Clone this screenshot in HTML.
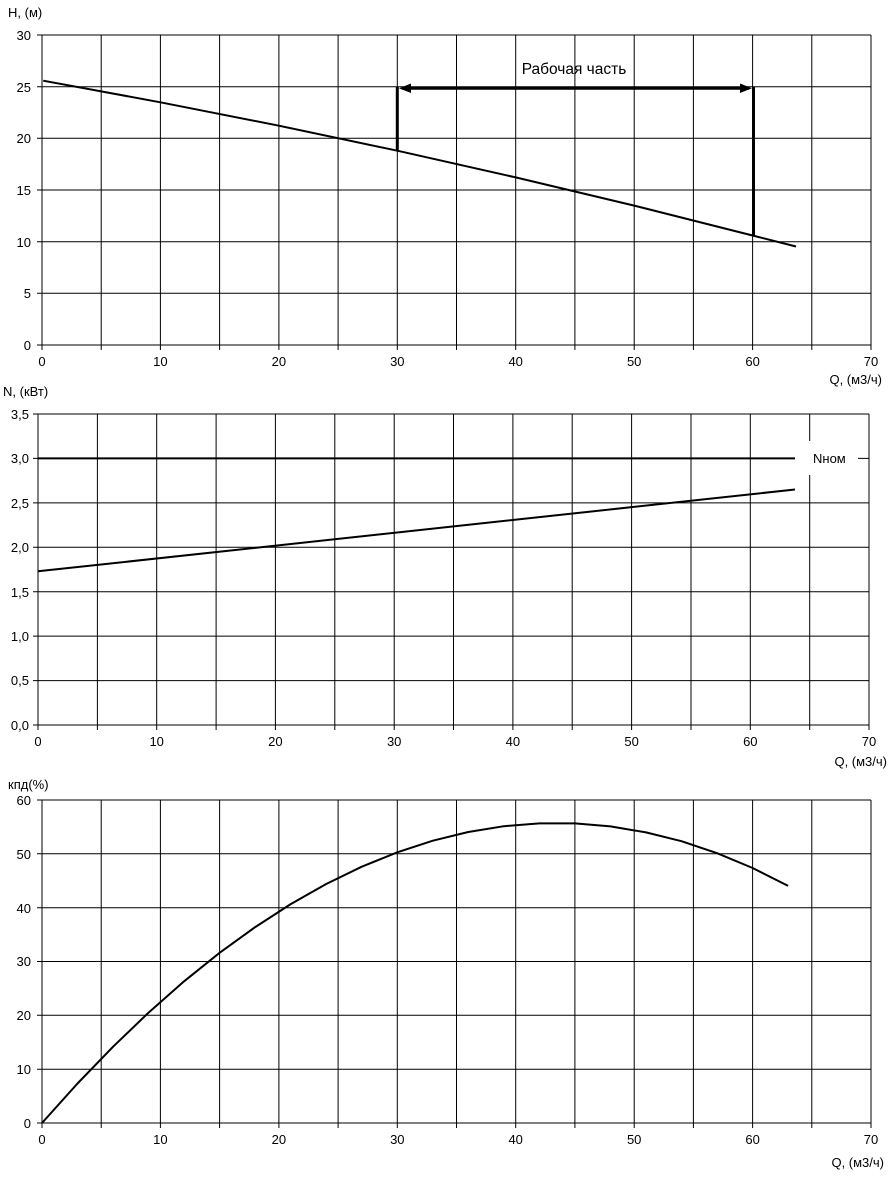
<!DOCTYPE html>
<html><head><meta charset="utf-8"><style>
body{margin:0;background:#fff}
svg{display:block}
text{font-family:"Liberation Sans",Arial,sans-serif;font-size:13px;fill:#000}
.g line{stroke:#000;stroke-width:1}
</style></head><body>
<svg width="889" height="1177" viewBox="0 0 889 1177">
<!-- Chart 1 -->
<g class="g">
<line x1="42" y1="35" x2="42" y2="350"/><line x1="101.2" y1="35" x2="101.2" y2="350"/><line x1="160.4" y1="35" x2="160.4" y2="350"/><line x1="219.6" y1="35" x2="219.6" y2="350"/><line x1="278.9" y1="35" x2="278.9" y2="350"/><line x1="338.1" y1="35" x2="338.1" y2="350"/><line x1="397.3" y1="35" x2="397.3" y2="350"/><line x1="456.5" y1="35" x2="456.5" y2="350"/><line x1="515.7" y1="35" x2="515.7" y2="350"/><line x1="574.9" y1="35" x2="574.9" y2="350"/><line x1="634.2" y1="35" x2="634.2" y2="350"/><line x1="693.4" y1="35" x2="693.4" y2="350"/><line x1="752.6" y1="35" x2="752.6" y2="350"/><line x1="811.8" y1="35" x2="811.8" y2="350"/><line x1="871" y1="35" x2="871" y2="350"/>
<line x1="37" y1="35" x2="871" y2="35"/><line x1="37" y1="86.7" x2="871" y2="86.7"/><line x1="37" y1="138.3" x2="871" y2="138.3"/><line x1="37" y1="190" x2="871" y2="190"/><line x1="37" y1="241.7" x2="871" y2="241.7"/><line x1="37" y1="293.3" x2="871" y2="293.3"/><line x1="37" y1="345" x2="871" y2="345"/>
</g>
<g text-anchor="end"><text x="31" y="40">30</text><text x="31" y="92">25</text><text x="31" y="143">20</text><text x="31" y="195">15</text><text x="31" y="247">10</text><text x="31" y="298">5</text><text x="31" y="350">0</text></g>
<g text-anchor="middle"><text x="42" y="366">0</text><text x="160.4" y="366">10</text><text x="278.9" y="366">20</text><text x="397.3" y="366">30</text><text x="515.7" y="366">40</text><text x="634.2" y="366">50</text><text x="752.6" y="366">60</text><text x="871" y="366">70</text></g>
<text x="8" y="17">H, (м)</text>
<text x="882" y="384" text-anchor="end">Q, (м3/ч)</text>
<polyline fill="none" stroke="#000" stroke-width="2" points="43.2,80.7 160.4,102.3 278.9,125.7 397.3,150.7 515.7,177.4 634.2,205.6 752.6,235.5 796,246.5"/>
<line x1="397.3" y1="151" x2="397.3" y2="87" stroke="#000" stroke-width="3"/>
<line x1="753.5" y1="236" x2="753.5" y2="87" stroke="#000" stroke-width="3"/>
<line x1="402" y1="88.2" x2="749" y2="88.2" stroke="#000" stroke-width="3"/>
<polygon points="399,88.2 411,83.5 411,93" fill="#000"/>
<polygon points="752,88.2 740,83.5 740,93" fill="#000"/>
<text x="574" y="74" text-anchor="middle" style="font-size:15.5px">Рабочая часть</text>

<!-- Chart 2 -->
<g class="g">
<line x1="38" y1="414" x2="38" y2="730"/><line x1="97.4" y1="414" x2="97.4" y2="730"/><line x1="156.7" y1="414" x2="156.7" y2="730"/><line x1="216.1" y1="414" x2="216.1" y2="730"/><line x1="275.4" y1="414" x2="275.4" y2="730"/><line x1="334.8" y1="414" x2="334.8" y2="730"/><line x1="394.2" y1="414" x2="394.2" y2="730"/><line x1="453.5" y1="414" x2="453.5" y2="730"/><line x1="512.9" y1="414" x2="512.9" y2="730"/><line x1="572.2" y1="414" x2="572.2" y2="730"/><line x1="631.6" y1="414" x2="631.6" y2="730"/><line x1="691" y1="414" x2="691" y2="730"/><line x1="750.3" y1="414" x2="750.3" y2="730"/><line x1="809.7" y1="414" x2="809.7" y2="730"/><line x1="869" y1="414" x2="869" y2="730"/>
<line x1="33" y1="414" x2="869" y2="414"/><line x1="33" y1="458.4" x2="869" y2="458.4"/><line x1="33" y1="502.9" x2="869" y2="502.9"/><line x1="33" y1="547.3" x2="869" y2="547.3"/><line x1="33" y1="591.7" x2="869" y2="591.7"/><line x1="33" y1="636.1" x2="869" y2="636.1"/><line x1="33" y1="680.6" x2="869" y2="680.6"/><line x1="33" y1="725" x2="869" y2="725"/>
</g>
<line x1="38" y1="458.4" x2="795" y2="458.4" stroke="#000" stroke-width="2"/>
<rect x="795" y="441" width="63" height="34" fill="#fff"/>
<text x="813" y="463">Nном</text>
<g text-anchor="end"><text x="29" y="419">3,5</text><text x="29" y="463">3,0</text><text x="29" y="508">2,5</text><text x="29" y="552">2,0</text><text x="29" y="597">1,5</text><text x="29" y="641">1,0</text><text x="29" y="685">0,5</text><text x="29" y="730">0,0</text></g>
<g text-anchor="middle"><text x="38" y="746">0</text><text x="156.7" y="746">10</text><text x="275.4" y="746">20</text><text x="394.2" y="746">30</text><text x="512.9" y="746">40</text><text x="631.6" y="746">50</text><text x="750.3" y="746">60</text><text x="869" y="746">70</text></g>
<text x="3" y="396">N, (кВт)</text>
<text x="887" y="766" text-anchor="end">Q, (м3/ч)</text>
<line x1="38" y1="571.3" x2="795" y2="489.5" stroke="#000" stroke-width="2"/>

<!-- Chart 3 -->
<g class="g">
<line x1="42" y1="800" x2="42" y2="1128"/><line x1="101.2" y1="800" x2="101.2" y2="1128"/><line x1="160.4" y1="800" x2="160.4" y2="1128"/><line x1="219.6" y1="800" x2="219.6" y2="1128"/><line x1="278.9" y1="800" x2="278.9" y2="1128"/><line x1="338.1" y1="800" x2="338.1" y2="1128"/><line x1="397.3" y1="800" x2="397.3" y2="1128"/><line x1="456.5" y1="800" x2="456.5" y2="1128"/><line x1="515.7" y1="800" x2="515.7" y2="1128"/><line x1="574.9" y1="800" x2="574.9" y2="1128"/><line x1="634.2" y1="800" x2="634.2" y2="1128"/><line x1="693.4" y1="800" x2="693.4" y2="1128"/><line x1="752.6" y1="800" x2="752.6" y2="1128"/><line x1="811.8" y1="800" x2="811.8" y2="1128"/><line x1="871" y1="800" x2="871" y2="1128"/>
<line x1="37" y1="800" x2="871" y2="800"/><line x1="37" y1="853.8" x2="871" y2="853.8"/><line x1="37" y1="907.7" x2="871" y2="907.7"/><line x1="37" y1="961.5" x2="871" y2="961.5"/><line x1="37" y1="1015.3" x2="871" y2="1015.3"/><line x1="37" y1="1069.2" x2="871" y2="1069.2"/><line x1="37" y1="1123" x2="871" y2="1123"/>
</g>
<g text-anchor="end"><text x="31" y="805">60</text><text x="31" y="859">50</text><text x="31" y="913">40</text><text x="31" y="966">30</text><text x="31" y="1020">20</text><text x="31" y="1074">10</text><text x="31" y="1128">0</text></g>
<g text-anchor="middle"><text x="42" y="1144">0</text><text x="160.4" y="1144">10</text><text x="278.9" y="1144">20</text><text x="397.3" y="1144">30</text><text x="515.7" y="1144">40</text><text x="634.2" y="1144">50</text><text x="752.6" y="1144">60</text><text x="871" y="1144">70</text></g>
<text x="8" y="789">кпд(%)</text>
<text x="884" y="1167" text-anchor="end">Q, (м3/ч)</text>
<polyline fill="none" stroke="#000" stroke-width="2" stroke-linejoin="round" points="42,1123 77.5,1083.5 113.1,1046.7 148.6,1012.6 184.1,981.3 219.6,952.8 255.2,927.1 290.7,904.1 326.2,884.0 361.8,866.7 397.3,852.3 432.8,840.7 468.3,832.0 503.9,826.2 539.4,823.4 574.9,823.4 610.5,826.4 646.0,832.4 681.5,841.2 717.1,853.2 752.6,868.0 788.1,885.9"/>
</svg>
</body></html>
